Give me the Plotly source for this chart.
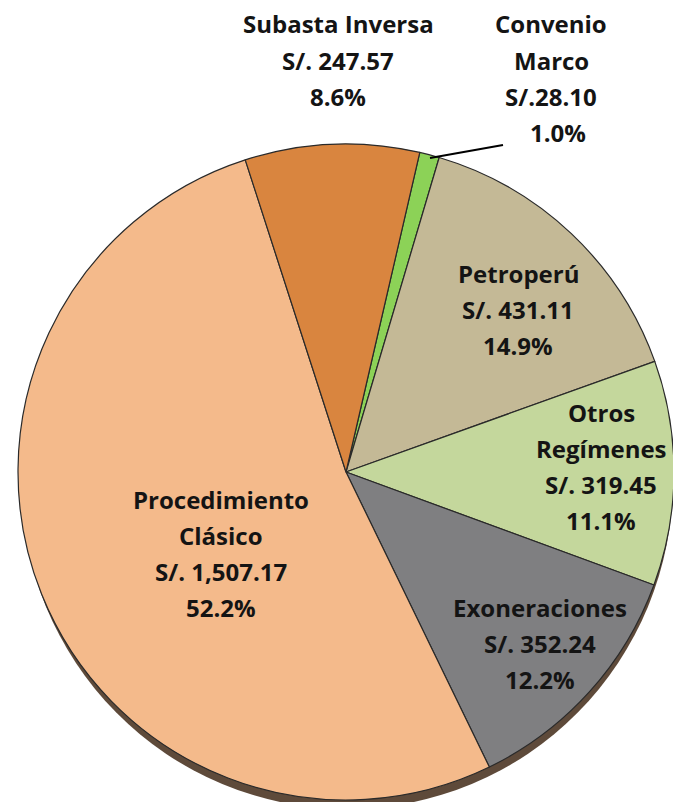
import plotly.graph_objects as go

# ---- data ----
categories = ["Convenio Marco", "Petroperú", "Otros Regímenes", "Exoneraciones",
              "Procedimiento Clásico", "Subasta Inversa"]
values = [28.10, 431.11, 319.45, 352.24, 1507.17, 247.57]
colors = ["#8CD257", "#C4B996", "#C4D79C", "#7F7F81", "#F4BA8B", "#D9853F"]
label_lines = [
    ["Convenio", "Marco", "S/.28.10", "1.0%"],
    ["Petroperú", "S/. 431.11", "14.9%"],
    ["Otros", "Regímenes", "S/. 319.45", "11.1%"],
    ["Exoneraciones", "S/. 352.24", "12.2%"],
    ["Procedimiento", "Clásico", "S/. 1,507.17", "52.2%"],
    ["Subasta Inversa", "S/. 247.57", "8.6%"],
]
# label block positions in page pixels (centre x, first-line y)
label_pos = [(551, 24), (518, 273), (601, 412), (540, 607), (221, 499), (338, 24)]
line_gap = 36

# page offset (default body margin of the html page)
OFF = 8
W, H = 681 - OFF, 810 - 2 * OFF
cx, cy, r = 346 - OFF, 472 - OFF, 328


def px(x):
    return (x - OFF) / W


def py(y):
    return 1 - (y - OFF) / H


fig = go.Figure()
fig.add_trace(go.Pie(
    labels=categories, values=values, sort=False, direction="clockwise",
    rotation=13, marker=dict(colors=colors, line=dict(color="#2a2a2a", width=1.2)),
    textinfo="none", hoverinfo="label+value+percent", showlegend=False,
    domain=dict(x=[(cx - r) / W, (cx + r) / W], y=[1 - (cy + r) / H, 1 - (cy - r) / H]),
))

# 3D-ish rim shadow under the pie
fig.add_shape(type="circle", xref="paper", yref="paper", layer="below",
              x0=(cx - r + 3) / W, x1=(cx + r - 1) / W,
              y0=1 - (cy + r + 9) / H, y1=1 - (cy - r + 8) / H,
              fillcolor="#5e4a3a", line=dict(width=0))

for lines, (bx, by) in zip(label_lines, label_pos):
    for i, t in enumerate(lines):
        xx = bx + (7 if t == "1.0%" else 0)
        fig.add_annotation(x=px(xx), y=py(by + i * line_gap), xref="paper", yref="paper",
                           text=f"<b>{t}</b>", showarrow=False, xanchor="center", yanchor="middle",
                           font=dict(family="Open Sans", size=24, color="#141414"))

# leader line for Convenio Marco
fig.add_shape(type="line", xref="paper", yref="paper",
              x0=px(430), y0=py(158), x1=px(503), y1=py(145),
              line=dict(color="black", width=2))

fig.update_layout(width=W, height=H, margin=dict(l=0, r=0, t=0, b=0),
                  paper_bgcolor="white", plot_bgcolor="white")
fig.write_html("out.html")
